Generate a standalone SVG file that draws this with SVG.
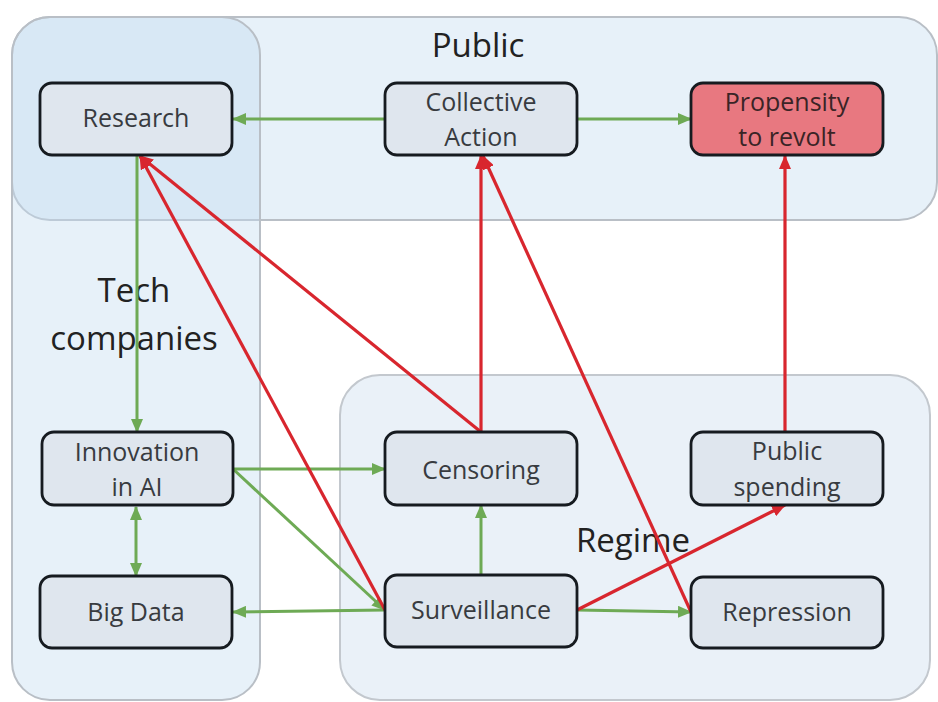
<svg xmlns="http://www.w3.org/2000/svg" width="938" height="702" viewBox="0 0 938 702">
<style>
.grp{fill:#c4dbef;fill-opacity:0.4;stroke:#b9bfc6;stroke-width:2}
.grpR{fill:#eaf1f8;stroke:#c3c8ce;stroke-width:2}
.glabel{font-family:"Open Sans","Noto Sans",sans-serif;font-size:33px;fill:#222;text-anchor:middle}
.node rect{fill:#dfe6ee;stroke:#161b20;stroke-width:2.8}
.node text{font-family:"Open Sans","Noto Sans",sans-serif;font-size:25px;fill:#383b40;text-anchor:middle}
#propensity rect{fill:#e87880}
#propensity text{fill:#3a2426}
.g{stroke:#6eaa55;stroke-width:3;fill:none;marker-end:url(#ag)}
.r{stroke:#d8262e;stroke-width:3.2;fill:none;marker-end:url(#ar)}
</style>
<defs>
<marker id="ag" markerUnits="userSpaceOnUse" markerWidth="14" markerHeight="12" refX="13" refY="6" orient="auto"><path d="M0,0 L14,6 L0,12 Z" fill="#6eaa55"/></marker>
<marker id="ags" markerUnits="userSpaceOnUse" markerWidth="14" markerHeight="12" refX="1" refY="6" orient="auto"><path d="M14,0 L0,6 L14,12 Z" fill="#6eaa55"/></marker>
<marker id="ar" markerUnits="userSpaceOnUse" markerWidth="14" markerHeight="12" refX="13" refY="6" orient="auto"><path d="M0,0 L14,6 L0,12 Z" fill="#d8262e"/></marker>
</defs>
<rect width="938" height="702" fill="#ffffff"/>
<g id="group-regime">
<rect class="grpR" x="340" y="375" width="590" height="325" rx="40"/>
<text class="glabel" x="633" y="552">Regime</text>
</g>
<g id="group-public">
<rect class="grp" x="12" y="17" width="925" height="203" rx="38"/>
<text class="glabel" x="478" y="57">Public</text>
</g>
<g id="group-tech">
<rect class="grp" x="12" y="17" width="248" height="683" rx="38"/>
<text class="glabel" x="134" y="302">Tech</text>
<text class="glabel" x="134" y="350">companies</text>
</g>
<g id="connectors">
<line class="g" x1="385" y1="119" x2="233" y2="119"/>
<line class="g" x1="577" y1="119" x2="691" y2="119"/>
<line class="g" x1="137" y1="155" x2="137" y2="432"/>
<line class="g" x1="136" y1="507" x2="136" y2="576" style="marker-start:url(#ags)"/>
<line class="g" x1="233" y1="469" x2="385" y2="469"/>
<line class="g" x1="233" y1="469" x2="385" y2="610"/>
<line class="g" x1="385" y1="610" x2="233" y2="612"/>
<line class="g" x1="481" y1="575" x2="481" y2="505"/>
<line class="g" x1="577" y1="610" x2="691" y2="612"/>
<line class="r" x1="385" y1="610" x2="140" y2="156"/>
<line class="r" x1="481" y1="432" x2="140" y2="156"/>
<line class="r" x1="481" y1="432" x2="481" y2="156"/>
<line class="r" x1="691" y1="612" x2="483" y2="156"/>
<line class="r" x1="577" y1="610" x2="785" y2="505"/>
<line class="r" x1="785" y1="432" x2="785" y2="156"/>
</g>
<g id="research" class="node"><rect x="40" y="83" width="192" height="72" rx="12"/><text x="136" y="127">Research</text></g>
<g id="collective" class="node"><rect x="385" y="83" width="192" height="72" rx="12"/><text x="481" y="111">Collective</text><text x="481" y="146">Action</text></g>
<g id="propensity" class="node"><rect x="691" y="83" width="192" height="72" rx="12"/><text x="787" y="111">Propensity</text><text x="787" y="146">to revolt</text></g>
<g id="innovation" class="node"><rect x="42" y="432" width="191" height="73" rx="12"/><text x="137" y="461">Innovation</text><text x="137" y="496">in AI</text></g>
<g id="bigdata" class="node"><rect x="40" y="576" width="192" height="72" rx="12"/><text x="136" y="621">Big Data</text></g>
<g id="censoring" class="node"><rect x="385" y="432" width="192" height="73" rx="12"/><text x="481" y="479">Censoring</text></g>
<g id="surveillance" class="node"><rect x="385" y="575" width="192" height="72" rx="12"/><text x="481" y="619">Surveillance</text></g>
<g id="spending" class="node"><rect x="691" y="432" width="192" height="73" rx="12"/><text x="787" y="460">Public</text><text x="787" y="496">spending</text></g>
<g id="repression" class="node"><rect x="691" y="577" width="192" height="71" rx="12"/><text x="787" y="621">Repression</text></g>
</svg>
